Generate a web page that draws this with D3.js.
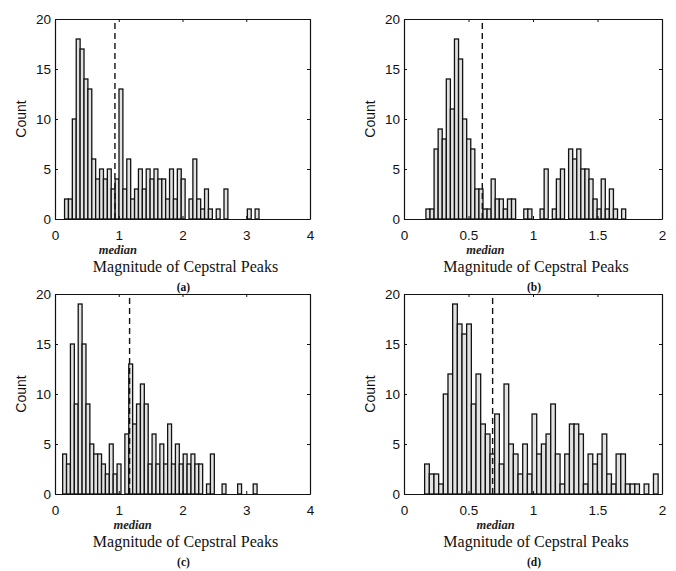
<!DOCTYPE html>
<meta charset="utf-8">
<style>
body { margin: 0; background: #fff; }
.tick text { font-family: "Liberation Sans", Arial, sans-serif; font-size: 13.5px; fill: #111; }
.domain { stroke: #111; stroke-width: 1.2px; }
.tick line { stroke: #111; stroke-width: 1px; }
.bar { fill: #e2e2e2; stroke: #111; stroke-width: 1.3px; }
.median-line { stroke: #111; stroke-width: 1.4px; stroke-dasharray: 6,4; }
.median-text { font-family: "Liberation Serif", serif; font-style: italic; font-weight: bold; font-size: 12.5px; fill: #222; }
.xlabel { font-family: "Liberation Serif", serif; font-size: 16px; fill: #111; }
.ylabel { font-family: "Liberation Sans", Arial, sans-serif; font-size: 14px; fill: #111; }
.panel-label { font-family: "Liberation Serif", serif; font-size: 11.5px; font-weight: bold; fill: #111; }
</style>
<body>
<script src="https://d3js.org/d3.v7.min.js"></script>
<script>

// histogram counts, 50 bins each
var countsA = [2,2,10,18,17,14,13,6,4,5,4,5,3,4,13,3,6,2,3,5,3,5,4,5,4,4,2,5,2,5,4,0,2,6,2,1,3,1,0,1,0,3,0,0,0,0,0,1,0,1];
var countsB = [1,1,7,9,8,14,11,18,16,10,8,7,3,3,1,1,4,2,2,1,2,2,0,0,1,1,0,0,1,5,0,1,4,5,0,7,6,7,5,5,4,2,1,4,1,3,1,0,1,0];
var countsC = [4,3,15,9,19,15,9,5,4,4,3,2,5,2,3,0,6,13,7,9,11,9,3,6,3,5,3,7,3,5,3,4,3,4,3,3,0,1,4,0,0,1,0,0,0,1,0,0,0,1];
var countsD = [3,2,2,1,10,12,19,17,16,17,9,12,7,6,4,8,3,11,5,4,2,5,2,8,4,5,6,9,4,1,4,7,7,6,1,4,3,4,6,2,1,4,4,1,1,1,0,1,0,2];

// data range covered by the bins
var rangeA = [0.15, 3.2];
var rangeB = [0.17, 1.75];
var rangeC = [0.12, 3.17];
var rangeD = [0.16, 1.97];

var medians = [0.94, 0.607, 1.17, 0.687];
var panelLabels = ["(a)", "(b)", "(c)", "(d)"];

var xTicksWide = [0, 1, 2, 3, 4];
var xTicksNarrow = [0, 0.5, 1, 1.5, 2];
var yTicks = [0, 5, 10, 15, 20];

var panels = [
    {counts: countsA, range: rangeA, ticks: xTicksWide,   left: 55,  top: 19,  width: 255},
    {counts: countsB, range: rangeB, ticks: xTicksNarrow, left: 404, top: 19,  width: 258},
    {counts: countsC, range: rangeC, ticks: xTicksWide,   left: 55,  top: 294, width: 255},
    {counts: countsD, range: rangeD, ticks: xTicksNarrow, left: 404, top: 294, width: 258}
];
var plotHeight = 200;
var fmt = d3.format("~g");

var svg = d3.select("body").append("svg")
    .attr("width", 676)
    .attr("height", 571);

panels.forEach(function(p, k) {
    var g = svg.append("g")
        .attr("transform", "translate(" + p.left + "," + p.top + ")");

    var x = d3.scaleLinear()
        .domain(d3.extent(p.ticks))
        .range([0, p.width]);
    var y = d3.scaleLinear()
        .domain([0, 20])
        .range([plotHeight, 0]);

    // bins
    var n = p.counts.length;
    var step = (p.range[1] - p.range[0]) / n;
    var bins = p.counts.map(function(c, i) {
        return {x0: p.range[0] + i * step, x1: p.range[0] + (i + 1) * step, count: c};
    });

    g.selectAll(".bar")
        .data(bins)
        .enter().append("rect")
        .attr("class", "bar")
        .attr("x", function(d) { return x(d.x0); })
        .attr("width", function(d) { return x(d.x1) - x(d.x0); })
        .attr("y", function(d) { return y(d.count); })
        .attr("height", function(d) { return y(0) - y(d.count); });

    // median
    g.append("line")
        .attr("class", "median-line")
        .attr("x1", x(medians[k]))
        .attr("x2", x(medians[k]))
        .attr("y1", y(0))
        .attr("y2", y(20));

    // axes, matlab style box with inward ticks
    g.append("g")
        .attr("transform", "translate(0," + plotHeight + ")")
        .call(d3.axisBottom(x).tickValues(p.ticks).tickFormat(fmt).tickSizeInner(-3).tickSizeOuter(0).tickPadding(11));
    g.append("g")
        .call(d3.axisTop(x).tickValues(p.ticks).tickSizeInner(-3).tickSizeOuter(0).tickFormat(""));
    g.append("g")
        .call(d3.axisLeft(y).tickValues(yTicks).tickFormat(fmt).tickSizeInner(-3).tickSizeOuter(0).tickPadding(4));
    g.append("g")
        .attr("transform", "translate(" + p.width + ",0)")
        .call(d3.axisRight(y).tickValues(yTicks).tickSizeInner(-3).tickSizeOuter(0).tickFormat(""));

    g.append("text")
        .attr("class", "median-text")
        .attr("x", x(medians[k]) + 3)
        .attr("y", plotHeight + 35)
        .attr("text-anchor", "middle")
        .text("median");

    g.append("text")
        .attr("class", "xlabel")
        .attr("x", p.width / 2 + 3)
        .attr("y", plotHeight + 53)
        .attr("text-anchor", "middle")
        .text("Magnitude of Cepstral Peaks");

    g.append("text")
        .attr("class", "panel-label")
        .attr("x", p.width / 2 + 1)
        .attr("y", plotHeight + 72)
        .attr("text-anchor", "middle")
        .text(panelLabels[k]);

    g.append("text")
        .attr("class", "ylabel")
        .attr("transform", "translate(-29," + (plotHeight / 2) + ") rotate(-90)")
        .attr("text-anchor", "middle")
        .text("Count");
});

</script>
</body>
